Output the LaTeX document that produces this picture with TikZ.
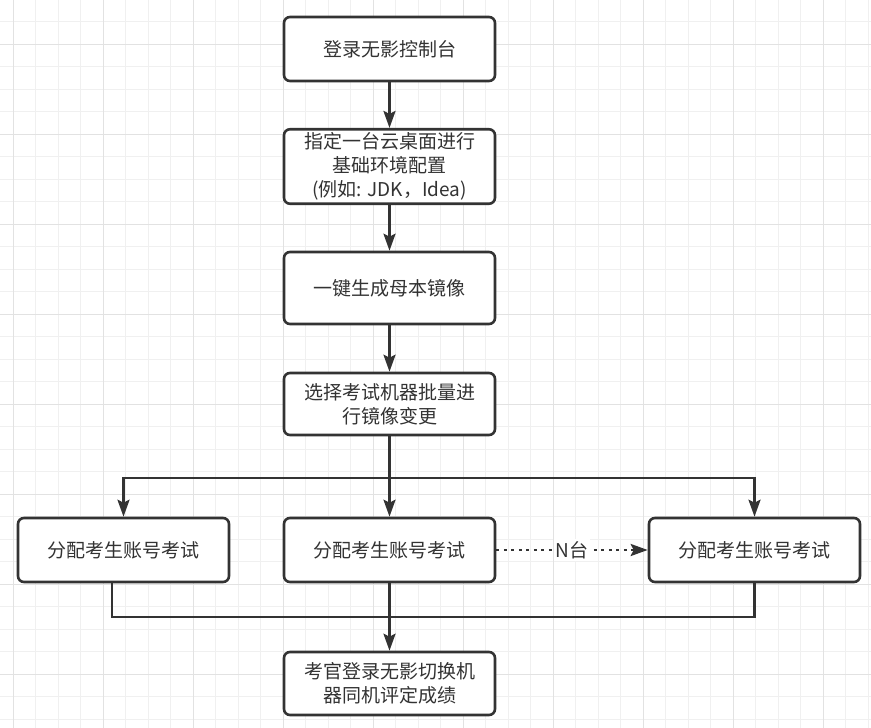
\documentclass[tikz,border=0pt]{standalone}
\usepackage{fontspec}
\setmainfont{Noto Sans CJK SC}
\usetikzlibrary{arrows.meta, positioning, calc}
\definecolor{gridminor}{RGB}{240,240,240}
\definecolor{gridmajor}{RGB}{226,226,226}
\definecolor{inkgray}{RGB}{51,51,51}

\begin{document}
\begin{tikzpicture}[
        x=1pt, y=-1pt,
        fbox/.style={rectangle, rounded corners=6pt, draw=inkgray, line width=2.6pt, fill=white, minimum width=211pt, align=center, font=\fontsize{19}{24}\selectfont, text=inkgray},
        flow/.style={-{Stealth[length=17pt, width=12pt, inset=3pt]}, line width=2.6pt, inkgray},
        link/.style={line width=2.6pt, inkgray}
    ]
        \useasboundingbox (0,0) rectangle (871,728);
        \fill[white] (0,0) rectangle (871,728);

        % Grid
        \foreach \gx in {0,...,38} \draw[gridminor, line width=1pt] ({13+22.5*\gx},0) -- ({13+22.5*\gx},728);
        \foreach \gy in {0,...,31} \draw[gridminor, line width=1pt] (0,{21.5+22.5*\gy}) -- (871,{21.5+22.5*\gy});
        \foreach \gx in {0,...,9} \draw[gridmajor, line width=1pt] ({13+90*\gx},0) -- ({13+90*\gx},728);
        \foreach \gy in {0,...,7} \draw[gridmajor, line width=1pt] (0,{44+90*\gy}) -- (871,{44+90*\gy});

        \node[fbox, minimum height=64pt] (login)  at (389.5,49)    {登录无影控制台};
        \node[fbox, minimum height=73pt] (config) at (389.5,166.5) {指定一台云桌面进行\\基础环境配置\\(例如: JDK，Idea)};
        \node[fbox, minimum height=72pt] (image)  at (389.5,288)   {一键生成母本镜像};
        \node[fbox, minimum height=62pt] (change) at (389.5,404)   {选择考试机器批量进\\行镜像变更};
        \node[fbox, minimum height=64pt] (examL)  at (123.5,550)   {分配考生账号考试};
        \node[fbox, minimum height=64pt] (examM)  at (389.5,550)   {分配考生账号考试};
        \node[fbox, minimum height=64pt] (examR)  at (754.5,550)   {分配考生账号考试};
        \node[fbox, minimum height=63pt] (grade)  at (389.5,683.5) {考官登录无影切换机\\器同机评定成绩};

        \coordinate (split) at (389.5,478);
        \coordinate (join)  at (389.5,617);

        \draw[flow] (login)  -- (config);
        \draw[flow] (config) -- (image);
        \draw[flow] (image)  -- (change);
        \draw[link] (change) -- (split);
        \draw[flow] (split) -| (examL);
        \draw[flow] (split) -- (examM);
        \draw[flow] (split) -| (examR);
        \draw[flow, dash pattern=on 3pt off 4.5pt] (examM) -- (examR)
            node[midway, fill=white, inner sep=2pt, text=inkgray, font=\fontsize{19}{24}\selectfont] (count) {N台};

        % Collect
        \draw[link] ([xshift=-11.5pt]examL.south) |- (join);
        \draw[link] (examR.south) |- (join);
        \draw[flow] (examM) -- (grade);
    \end{tikzpicture}
\end{document}
